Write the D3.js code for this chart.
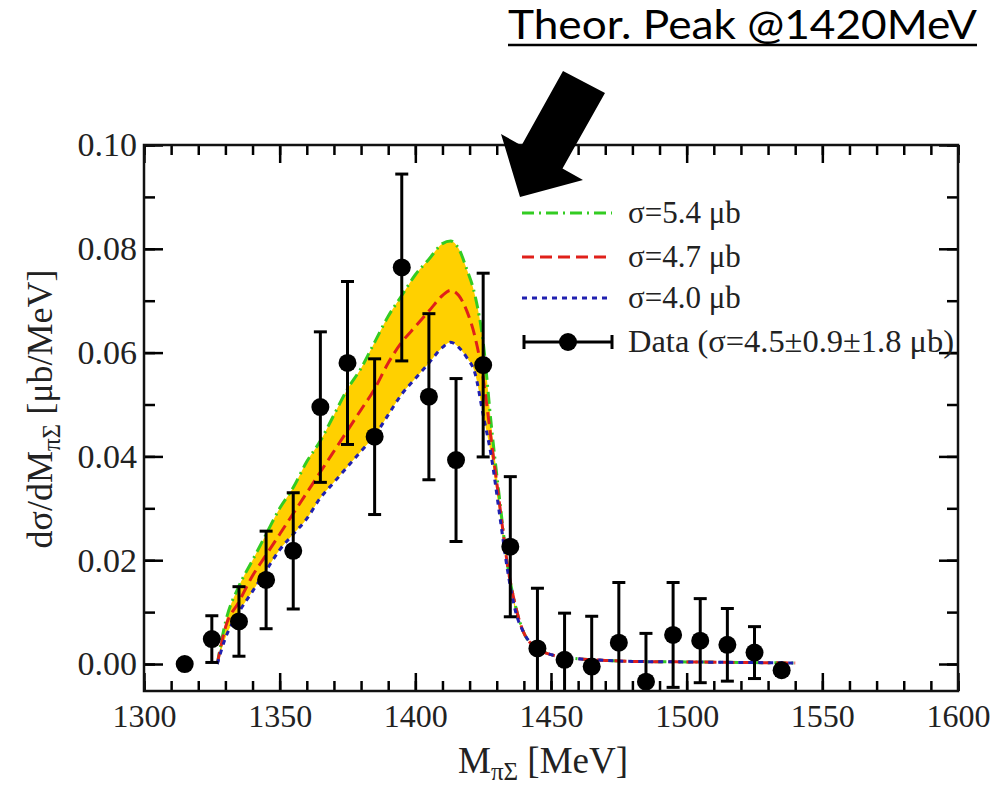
<!DOCTYPE html>
<html><head><meta charset="utf-8">
<script src="https://cdn.jsdelivr.net/npm/d3@7"></script>
<style>body{margin:0;background:#fff;} svg{display:block;}</style>
</head><body>
<script>
// ---- data ----
const dataMass  = [1315,1325,1335,1345,1355,1365,1375,1385,1395,1405,1415,1425,1435,1445,1455,1465,1475,1485,1495,1505,1515,1525,1535];
const dataValue = [0.000,0.0048,0.0082,0.0162,0.0218,0.0495,0.058,0.0438,0.0764,0.0515,0.0393,0.0576,0.0226,0.003,0.0008,-0.0005,0.0041,-0.0034,0.0056,0.0045,0.0037,0.0022,-0.0012];
const dataError = [0,0.0045,0.0067,0.0094,0.0112,0.0145,0.0157,0.015,0.018,0.016,0.0157,0.0177,0.0135,0.0116,0.009,0.0097,0.0116,0.0093,0.0101,0.0081,0.007,0.005,0.001];

const curveMass = [1327,1330,1335,1340,1345,1350,1355,1360,1365,1370,1375,1380,1385,1390,1395,1400,1405,1410,1413,1416,1419,1422,1425,1428,1431,1434,1437,1440,1445,1450,1460,1470,1480,1500,1520,1540];
const sigma54 = [0,0.008,0.015,0.020,0.025,0.030,0.034,0.039,0.043,0.048,0.053,0.057,0.062,0.067,0.071,0.075,0.078,0.081,0.0815,0.080,0.076,0.071,0.062,0.046,0.032,0.019,0.011,0.006,0.003,0.0018,0.001,0.0007,0.0005,0.0004,0.0003,0.0002];
const sigma47 = [0,0.007,0.012,0.017,0.021,0.025,0.029,0.033,0.037,0.041,0.045,0.049,0.053,0.058,0.062,0.065,0.068,0.071,0.072,0.071,0.068,0.063,0.055,0.043,0.031,0.019,0.011,0.006,0.003,0.0018,0.001,0.0007,0.0005,0.0004,0.0003,0.0002];
const sigma40 = [0,0.005,0.010,0.014,0.018,0.022,0.025,0.028,0.032,0.035,0.038,0.041,0.044,0.048,0.052,0.055,0.058,0.061,0.062,0.061,0.059,0.056,0.048,0.040,0.029,0.018,0.010,0.006,0.003,0.0018,0.001,0.0007,0.0005,0.0004,0.0003,0.0002];

const xMajorTicks = [1300,1350,1400,1450,1500,1550,1600];
const yMajorTicks = [0.00,0.02,0.04,0.06,0.08,0.10];
const legendLabels = ["σ=5.4 μb","σ=4.7 μb","σ=4.0 μb","Data (σ=4.5±0.9±1.8 μb)"];
const annotationText = "Theor. Peak @1420MeV";

// ---- layout ----
const W = 997, H = 789;
const L = 144, R = 958, T = 145, B = 691;
const serif = "'Liberation Serif','Times New Roman',serif";

const svg = d3.select("body").append("svg").attr("width", W).attr("height", H);

const x = d3.scaleLinear().domain([1300, 1600]).range([L, R]);
const y = d3.scaleLinear().domain([-0.0052, 0.1]).range([B, T]);

svg.append("defs").append("clipPath").attr("id","clip")
  .append("rect").attr("x",L).attr("y",T).attr("width",R-L).attr("height",B-T);

const plot = svg.append("g").attr("clip-path","url(#clip)");

// band
const band = curveMass.map((m,i)=>({m, hi:sigma54[i], lo:sigma40[i]}));
plot.append("path").datum(band)
  .attr("d", d3.area().x(d=>x(d.m)).y0(d=>y(d.lo)).y1(d=>y(d.hi)).curve(d3.curveMonotoneX))
  .attr("fill","#ffd000");

const line = d3.line().x(d=>x(d[0])).y(d=>y(d[1])).curve(d3.curveMonotoneX);
const series = [
  {vals:sigma54, color:"#33cc22", dash:"12,5,2,5"},
  {vals:sigma47, color:"#e0201a", dash:"12,6"},
  {vals:sigma40, color:"#2020b0", dash:"5,5"}
];
series.forEach(s=>{
  plot.append("path").datum(curveMass.map((m,i)=>[m,s.vals[i]]))
    .attr("d", line).attr("fill","none").attr("stroke",s.color)
    .attr("stroke-width",3).attr("stroke-dasharray",s.dash);
});

// data points
const pts = dataMass.map((m,i)=>({m, v:dataValue[i], e:dataError[i]}));
const capW = 6.5;
const eg = plot.append("g").attr("stroke","#000").attr("stroke-width",3);
pts.forEach(d=>{
  if (d.e > 0) {
    eg.append("line").attr("x1",x(d.m)).attr("x2",x(d.m)).attr("y1",y(d.v-d.e)).attr("y2",y(d.v+d.e));
    eg.append("line").attr("x1",x(d.m)-capW).attr("x2",x(d.m)+capW).attr("y1",y(d.v+d.e)).attr("y2",y(d.v+d.e));
    eg.append("line").attr("x1",x(d.m)-capW).attr("x2",x(d.m)+capW).attr("y1",y(d.v-d.e)).attr("y2",y(d.v-d.e));
  }
});
plot.selectAll("circle.pt").data(pts).enter().append("circle")
  .attr("cx",d=>x(d.m)).attr("cy",d=>y(d.v)).attr("r",9).attr("fill","#000");

// axes (inward ticks on all four sides)
function styleAxis(fs){
  return g=>{
    g.select(".domain").remove();
    g.selectAll(".tick line").attr("stroke","#000").attr("stroke-width",2.5);
    g.selectAll("text").attr("font-family",serif).attr("font-size",fs).attr("fill","#222");
  };
}
const xMinor = d3.range(1300,1601,10);
const yMinor = d3.range(0,0.1001,0.01);
svg.append("g").attr("transform",`translate(0,${B})`)
  .call(d3.axisBottom(x).tickValues(xMinor).tickSize(-10).tickFormat("")).call(styleAxis(31));
svg.append("g").attr("transform",`translate(0,${B})`)
  .call(d3.axisBottom(x).tickValues(xMajorTicks).tickSize(-18).tickPadding(13).tickFormat(d3.format("d"))).call(styleAxis(32));
svg.append("g").attr("transform",`translate(0,${T})`)
  .call(d3.axisTop(x).tickValues(xMinor).tickSize(-10).tickFormat("")).call(styleAxis(31));
svg.append("g").attr("transform",`translate(0,${T})`)
  .call(d3.axisTop(x).tickValues(xMajorTicks).tickSize(-18).tickFormat("")).call(styleAxis(31));
svg.append("g").attr("transform",`translate(${L},0)`)
  .call(d3.axisLeft(y).tickValues(yMinor).tickSize(-11).tickFormat("")).call(styleAxis(31));
svg.append("g").attr("transform",`translate(${L},0)`)
  .call(d3.axisLeft(y).tickValues(yMajorTicks).tickSize(-19).tickPadding(7).tickFormat(d3.format(".2f"))).call(styleAxis(34));
svg.append("g").attr("transform",`translate(${R},0)`)
  .call(d3.axisRight(y).tickValues(yMinor).tickSize(-11).tickFormat("")).call(styleAxis(31));
svg.append("g").attr("transform",`translate(${R},0)`)
  .call(d3.axisRight(y).tickValues(yMajorTicks).tickSize(-19).tickFormat("")).call(styleAxis(31));

// frame
svg.append("rect").attr("x",L).attr("y",T).attr("width",R-L).attr("height",B-T)
  .attr("fill","none").attr("stroke","#111").attr("stroke-width",2.5);

// axis titles
const xt = svg.append("text").attr("x",(L+R)/2 - 8).attr("y",773).attr("text-anchor","middle")
  .attr("font-family",serif).attr("font-size",37).attr("fill","#222");
xt.append("tspan").text("M");
xt.append("tspan").attr("font-size",25).attr("dy",7).text("πΣ");
xt.append("tspan").attr("dy",-7).text(" [MeV]");

const yt = svg.append("text").attr("transform",`translate(52,${(T+B)/2 - 9}) rotate(-90)`)
  .attr("text-anchor","middle").attr("font-family",serif).attr("font-size",36).attr("fill","#222");
yt.append("tspan").text("dσ/dM");
yt.append("tspan").attr("font-size",25).attr("dy",8).text("πΣ");
yt.append("tspan").attr("dy",-8).text(" [μb/MeV]");

// legend
const lx0 = 522, lx1 = 612, ltx = 628;
const legY = [213, 257, 298, 342];
series.forEach((s,i)=>{
  svg.append("line").attr("x1",lx0).attr("x2",lx1).attr("y1",legY[i]).attr("y2",legY[i])
    .attr("stroke",s.color).attr("stroke-width",3).attr("stroke-dasharray",s.dash);
});
const dl = svg.append("g").attr("stroke","#000").attr("stroke-width",3);
dl.append("line").attr("x1",lx0+2).attr("x2",lx1).attr("y1",legY[3]).attr("y2",legY[3]);
dl.append("line").attr("x1",lx0+2).attr("x2",lx0+2).attr("y1",legY[3]-7).attr("y2",legY[3]+7);
dl.append("line").attr("x1",lx1).attr("x2",lx1).attr("y1",legY[3]-7).attr("y2",legY[3]+7);
svg.append("circle").attr("cx",568).attr("cy",legY[3]).attr("r",9).attr("fill","#000");
legendLabels.forEach((t,i)=>{
  const el = svg.append("text").attr("x",ltx).attr("y",legY[i]+10).attr("font-family",serif)
    .attr("font-size",31).attr("fill","#222").text(t);
  if (i === 3) el.attr("textLength",326).attr("lengthAdjust","spacingAndGlyphs");
});

// annotation
svg.append("text").attr("x",508).attr("y",39).attr("font-family","Lato, 'Open Sans', sans-serif")
  .attr("font-size",40).attr("fill","#000").attr("textLength",469).attr("lengthAdjust","spacingAndGlyphs")
  .text(annotationText);
svg.append("line").attr("x1",508).attr("x2",977).attr("y1",45).attr("y2",45).attr("stroke","#000").attr("stroke-width",2.5);
svg.append("path").attr("d","M563,71 L605,93 L562.5,168.5 L583,180 L520,197 L501,134 L521.5,145.5 Z").attr("fill","#000");
</script>
</body></html>
